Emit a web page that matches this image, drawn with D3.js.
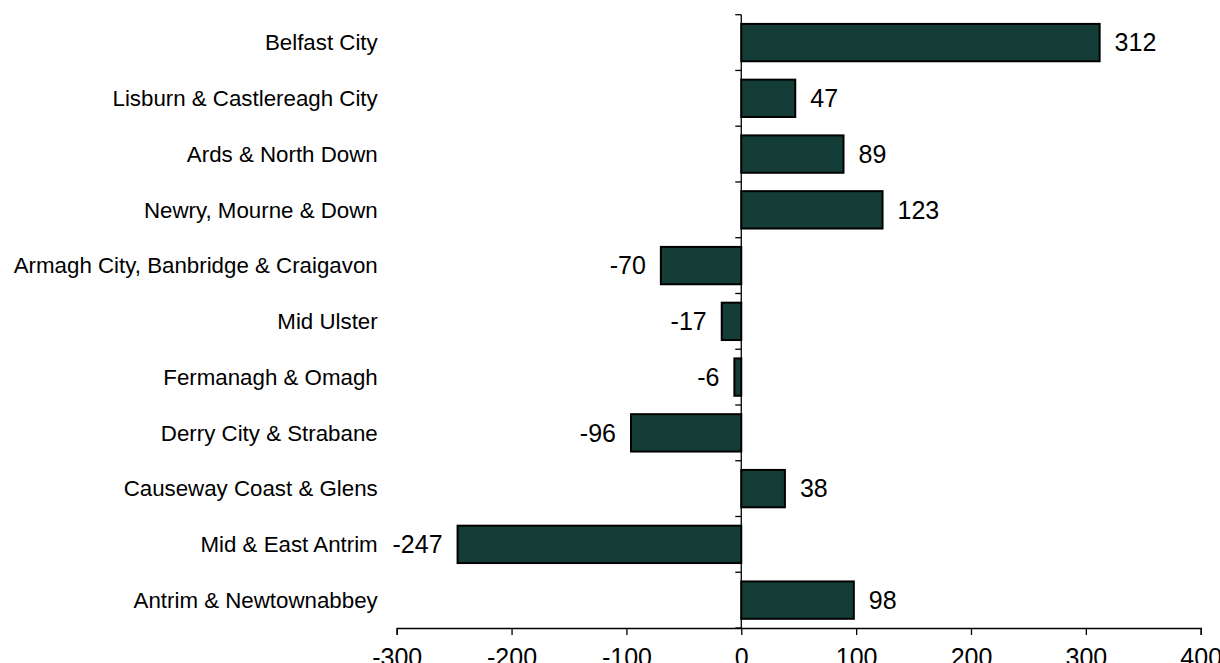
<!DOCTYPE html>
<html lang="en">
  <head>
    <meta charset="UTF-8" />
    <title>Change by Council Area</title>
    <script src="https://d3js.org/d3.v7.min.js"></script>
    <style>
      body {
        margin: 0;
        background: #ffffff;
      }
      svg text {
        font-family: Arial, "Liberation Sans", sans-serif;
        fill: #000;
      }
      .bar {
        fill: #143d38;
        stroke: #000;
        stroke-width: 2;
      }
    </style>
  </head>
  <body>
    <svg id="chart" width="1220" height="663"></svg>

    <script>
      // Council areas, top to bottom as drawn
      const areas = [
        "Belfast City",
        "Lisburn & Castlereagh City",
        "Ards & North Down",
        "Newry, Mourne & Down",
        "Armagh City, Banbridge & Craigavon",
        "Mid Ulster",
        "Fermanagh & Omagh",
        "Derry City & Strabane",
        "Causeway Coast & Glens",
        "Mid & East Antrim",
        "Antrim & Newtownabbey",
      ];
      const values = [312, 47, 89, 123, -70, -17, -6, -96, 38, -247, 98];
      const xTicks = [-300, -200, -100, 0, 100, 200, 300, 400];

      const data = areas.map((a, i) => ({ area: a, value: values[i] }));

      const svg = d3.select("#chart");
      const margin = { top: 14.7, right: 19.3, bottom: 35, left: 396.7 };
      const width = +svg.attr("width") - margin.left - margin.right;
      const height = +svg.attr("height") - margin.top - margin.bottom;

      const g = svg
        .append("g")
        .attr("transform", `translate(${margin.left},${margin.top})`);

      const x = d3.scaleLinear().domain([-300, 400]).range([0, width]);

      const y = d3
        .scaleBand()
        .domain(areas)
        .range([0, height])
        .paddingInner(0.33)
        .paddingOuter(0.165);

      // X axis (plain hyphen for negatives)
      const xAxis = g
        .append("g")
        .attr("transform", `translate(0,${height})`)
        .call(
          d3
            .axisBottom(x)
            .tickValues(xTicks)
            .tickFormat((d) => String(d))
            .tickSize(7)
            .tickPadding(13)
        );
      xAxis.select(".domain").attr("stroke", "#000").attr("stroke-width", 1.3);
      xAxis.selectAll(".tick line").attr("stroke", "#000").attr("stroke-width", 1.3);
      xAxis.selectAll("text").style("font-size", "25px");

      // Vertical axis at zero, ticks at category boundaries
      const x0 = x(0);
      const step = y.step();
      const yAxis = g.append("g");
      yAxis
        .append("line")
        .attr("x1", x0)
        .attr("x2", x0)
        .attr("y1", 0)
        .attr("y2", height)
        .attr("stroke", "#000")
        .attr("stroke-width", 1.3);
      yAxis
        .selectAll("line.tick")
        .data(d3.range(areas.length + 1))
        .enter()
        .append("line")
        .attr("class", "tick")
        .attr("x1", x0 - 6)
        .attr("x2", x0)
        .attr("y1", (i) => i * step)
        .attr("y2", (i) => i * step)
        .attr("stroke", "#000")
        .attr("stroke-width", 1.3);

      // Category labels
      g.selectAll(".cat")
        .data(data)
        .enter()
        .append("text")
        .attr("class", "cat")
        .attr("x", -19)
        .attr("y", (d) => y(d.area) + y.bandwidth() / 2)
        .attr("dy", "0.35em")
        .attr("text-anchor", "end")
        .style("font-size", "22.3px")
        .text((d) => d.area);

      // Bars
      g.selectAll(".bar")
        .data(data)
        .enter()
        .append("rect")
        .attr("class", "bar")
        .attr("x", (d) => x(Math.min(0, d.value)))
        .attr("y", (d) => y(d.area))
        .attr("width", (d) => Math.abs(x(d.value) - x0))
        .attr("height", y.bandwidth());

      // Value labels
      g.selectAll(".val")
        .data(data)
        .enter()
        .append("text")
        .attr("class", "val")
        .attr("x", (d) => (d.value >= 0 ? x(d.value) + 15 : x(d.value) - 15))
        .attr("y", (d) => y(d.area) + y.bandwidth() / 2)
        .attr("dy", "0.35em")
        .attr("text-anchor", (d) => (d.value >= 0 ? "start" : "end"))
        .style("font-size", "25px")
        .text((d) => d.value);
    </script>
  </body>
</html>
